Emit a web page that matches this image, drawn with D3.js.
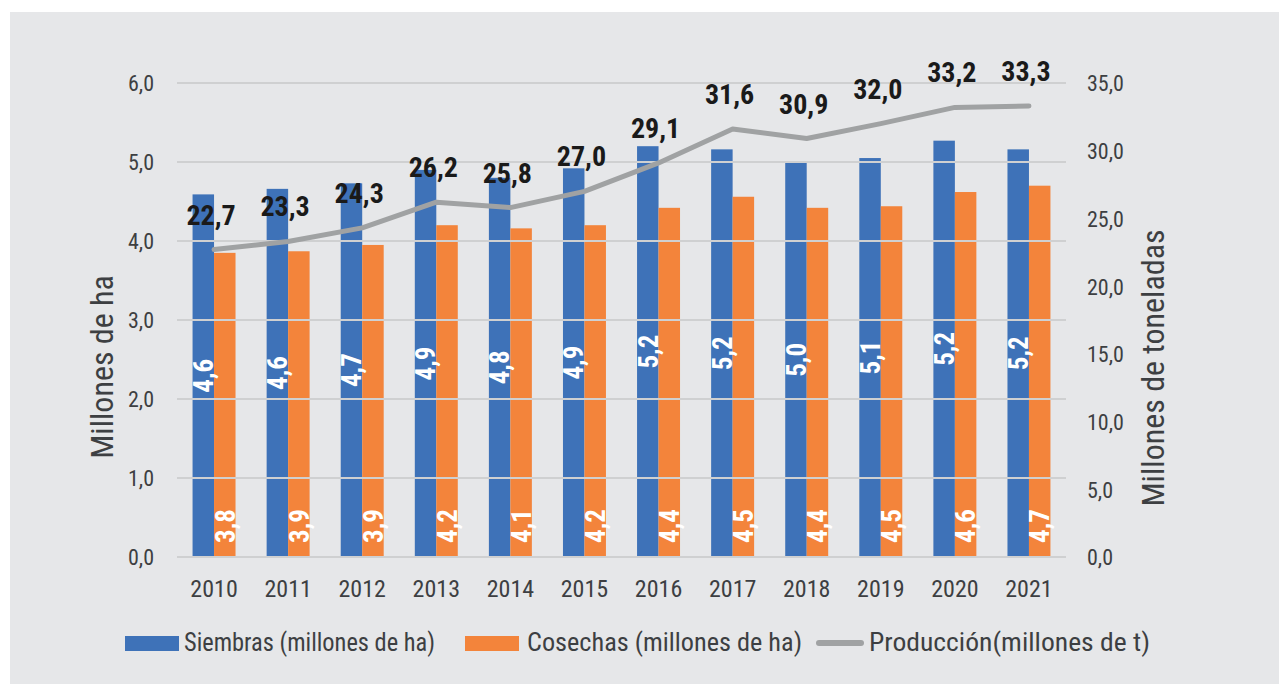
<!DOCTYPE html>
<html>
<head>
<meta charset="utf-8">
<script src="https://cdn.jsdelivr.net/npm/d3@7"></script>
<style>
  body { margin: 0; background: #fff; }
  text { font-family: "Liberation Sans Narrow", "Roboto Condensed", "DejaVu Sans Condensed", sans-serif; }
</style>
</head>
<body>
<div id="chart"></div>
<script>
var years = ["2010","2011","2012","2013","2014","2015","2016","2017","2018","2019","2020","2021"];
var siembras = [4.59, 4.66, 4.73, 4.9, 4.8, 4.92, 5.2, 5.16, 4.99, 5.05, 5.27, 5.16];
var siembrasLbl = ["4,6","4,6","4,7","4,9","4,8","4,9","5,2","5,2","5,0","5,1","5,2","5,2"];
var cosechas = [3.85, 3.87, 3.95, 4.2, 4.16, 4.2, 4.42, 4.56, 4.42, 4.44, 4.62, 4.7];
var cosechasLbl = ["3,8","3,9","3,9","4,2","4,1","4,2","4,4","4,5","4,4","4,5","4,6","4,7"];
var produccion = [22.7, 23.3, 24.3, 26.2, 25.8, 27.0, 29.1, 31.6, 30.9, 32.0, 33.2, 33.3];
var leftTicks = [0, 1, 2, 3, 4, 5, 6];
var rightTicks = [0, 5, 10, 15, 20, 25, 30, 35];

var W = 1279, H = 684;
var plot = {left: 177, right: 1066, top: 83, bottom: 557};

var fmt = function(v) { return d3.format(".1f")(v).replace(".", ","); };

var svg = d3.select("#chart").append("svg")
    .attr("width", W)
    .attr("height", H);

// panel background
svg.append("rect")
    .attr("x", 10).attr("y", 12)
    .attr("width", W - 10).attr("height", H - 12)
    .attr("fill", "#e6e7e9");

var x0 = d3.scaleBand().domain(years)
    .range([plot.left, plot.right])
    .paddingInner(0.42).paddingOuter(0.21);
var x1 = d3.scaleBand().domain(["s", "c"]).range([0, x0.bandwidth()]);
var y = d3.scaleLinear().domain([0, 6]).range([plot.bottom, plot.top]);
var y2 = d3.scaleLinear().domain([0, 35]).range([plot.bottom, plot.top]);

var rows = years.map(function(yr, i) {
  return {year: yr, s: siembras[i], c: cosechas[i], p: produccion[i],
          sl: siembrasLbl[i], cl: cosechasLbl[i]};
});

// bars
var g = svg.append("g");
g.selectAll(".bs").data(rows).enter().append("rect")
    .attr("x", function(d) { return x0(d.year) + x1("s"); })
    .attr("y", function(d) { return y(d.s); })
    .attr("width", x1.bandwidth())
    .attr("height", function(d) { return y(0) - y(d.s); })
    .attr("fill", "#3e72b8");
g.selectAll(".bc").data(rows).enter().append("rect")
    .attr("x", function(d) { return x0(d.year) + x1("c"); })
    .attr("y", function(d) { return y(d.c); })
    .attr("width", x1.bandwidth())
    .attr("height", function(d) { return y(0) - y(d.c); })
    .attr("fill", "#f3843b");

// gridlines (drawn over bars like the original)
svg.append("g").selectAll("line").data(leftTicks).enter().append("line")
    .attr("x1", plot.left).attr("x2", plot.right)
    .attr("y1", function(d) { return y(d); })
    .attr("y2", function(d) { return y(d); })
    .attr("stroke", "#cfd0d1")
    .attr("stroke-width", 2);

// left axis
var yAxis = svg.append("g")
    .attr("transform", "translate(" + (plot.left - 23) + ",0)")
    .call(d3.axisLeft(y).tickValues(leftTicks).tickFormat(fmt).tickSize(0).tickPadding(0));
yAxis.select(".domain").remove();
yAxis.selectAll("text").attr("font-size", 22).attr("fill", "#3d3f42")
    .attr("font-family", null).attr("dy", "0.36em");

// right axis
var y2Axis = svg.append("g")
    .attr("transform", "translate(" + (plot.right + 21) + ",0)")
    .call(d3.axisRight(y2).tickValues(rightTicks).tickFormat(fmt).tickSize(0).tickPadding(0));
y2Axis.select(".domain").remove();
y2Axis.selectAll("text").attr("font-size", 22).attr("fill", "#3d3f42")
    .attr("font-family", null).attr("dy", "0.36em");

// x axis
var xAxis = svg.append("g")
    .attr("transform", "translate(0," + plot.bottom + ")")
    .call(d3.axisBottom(x0).tickSize(0).tickPadding(0));
xAxis.select(".domain").remove();
xAxis.selectAll("text").attr("font-size", 24).attr("fill", "#3d3f42")
    .attr("font-family", null).attr("dy", 40);

// axis titles
svg.append("text")
    .attr("transform", "translate(113,367) rotate(-90)")
    .attr("text-anchor", "middle")
    .attr("font-size", 32).attr("fill", "#3d3f42")
    .text("Millones de ha");
svg.append("text")
    .attr("transform", "translate(1164,368) rotate(-90)")
    .attr("text-anchor", "middle")
    .attr("font-size", 32).attr("fill", "#3d3f42")
    .text("Millones de toneladas");

// bar labels
svg.append("g").selectAll("text").data(rows).enter().append("text")
    .attr("transform", function(d) {
      var cx = x0(d.year) + x1("s") + x1.bandwidth() / 2;
      var cy = (y(d.s) + y(0)) / 2;
      return "translate(" + cx + "," + cy + ") rotate(-90)";
    })
    .attr("text-anchor", "middle").attr("dy", "0.36em")
    .attr("font-size", 27).attr("font-weight", "bold").attr("fill", "#fff")
    .text(function(d) { return d.sl; });
svg.append("g").selectAll("text").data(rows).enter().append("text")
    .attr("transform", function(d) {
      var cx = x0(d.year) + x1("c") + x1.bandwidth() / 2;
      return "translate(" + cx + "," + (y(0) - 14) + ") rotate(-90)";
    })
    .attr("text-anchor", "start").attr("dy", "0.36em")
    .attr("font-size", 27).attr("font-weight", "bold").attr("fill", "#fff")
    .text(function(d) { return d.cl; });

// production line
var line = d3.line()
    .x(function(d) { return x0(d.year) + x0.bandwidth() / 2; })
    .y(function(d) { return y2(d.p); });
svg.append("path")
    .datum(rows)
    .attr("d", line)
    .attr("fill", "none")
    .attr("stroke", "#a0a2a3")
    .attr("stroke-width", 5)
    .attr("stroke-linecap", "round")
    .attr("stroke-linejoin", "round");

svg.append("g").selectAll("text").data(rows).enter().append("text")
    .attr("x", function(d) { return x0(d.year) + x0.bandwidth() / 2 - 3; })
    .attr("y", function(d) { return y2(d.p) - 25; })
    .attr("text-anchor", "middle")
    .attr("font-size", 28).attr("font-weight", "bold").attr("fill", "#1a1a1a")
    .text(function(d) { return fmt(d.p); });

// legend
var legend = svg.append("g");
var items = [
  {label: "Siembras (millones de ha)", color: "#3e72b8", type: "rect", x: 125, tx: 184, len: 251},
  {label: "Cosechas (millones de ha)", color: "#f3843b", type: "rect", x: 465, tx: 527, len: 275},
  {label: "Producción(millones de t)", color: "#a0a2a3", type: "line", x: 816, tx: 869, len: 281}
];
items.forEach(function(it) {
  if (it.type === "rect") {
    legend.append("rect").attr("x", it.x).attr("y", 636)
        .attr("width", 54).attr("height", 15).attr("fill", it.color);
  } else {
    legend.append("line").attr("x1", it.x + 3).attr("x2", it.x + 45)
        .attr("y1", 643).attr("y2", 643)
        .attr("stroke", it.color).attr("stroke-width", 6).attr("stroke-linecap", "round");
  }
  legend.append("text").attr("x", it.tx).attr("y", 651)
      .attr("font-size", 26).attr("fill", "#3d3f42")
      .attr("textLength", it.len).attr("lengthAdjust", "spacingAndGlyphs")
      .text(it.label);
});
</script>
</body>
</html>
